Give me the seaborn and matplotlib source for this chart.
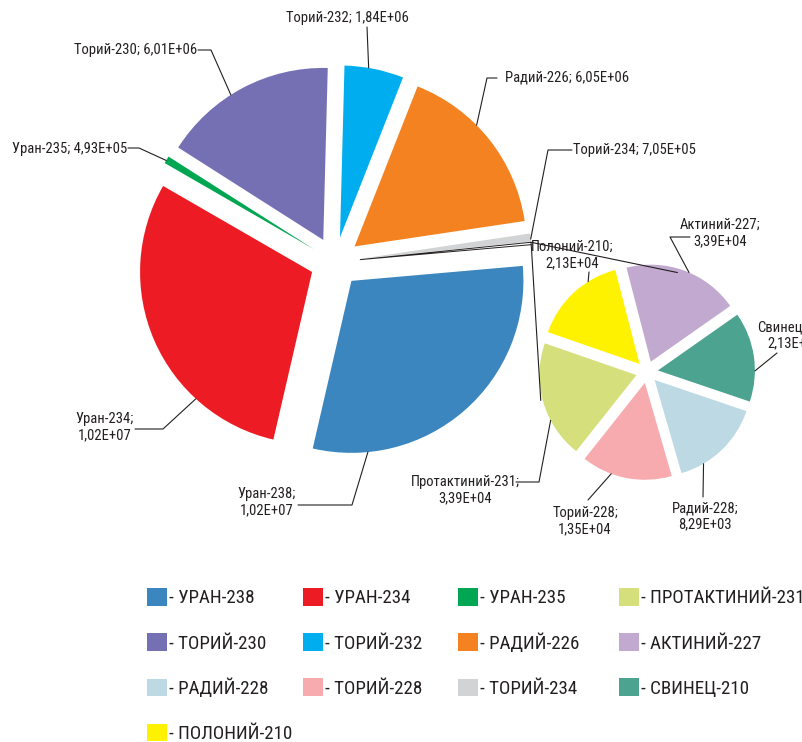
import numpy as np
import matplotlib
matplotlib.use("Agg")
import matplotlib.pyplot as plt
import matplotlib.patches as mpatches
import seaborn as sns

W, H = 802, 742

# big pie, clockwise from the right
main_names = ["Уран-238", "Уран-234", "Уран-235", "Торий-230", "Торий-232", "Радий-226", "Торий-234"]
main_values = [1.02e7, 1.02e7, 4.93e5, 6.01e6, 1.84e6, 6.05e6, 7.05e5]
main_shares = [108, 107, 2.5, 59, 20, 60, 2.7]  # slice sizes as drawn (degrees)
other_share = 0.8

# small pie, clockwise from the top
sec_names = ["Актиний-227", "Свинец-210", "Радий-228", "Торий-228", "Протактиний-231", "Полоний-210"]
sec_values = [3.39e4, 2.13e4, 8.29e3, 1.35e4, 3.39e4, 2.13e4]
sec_shares = [69.7, 54, 55.4, 54.7, 71, 56.6]

legend_order = ["Уран-238", "Уран-234", "Уран-235", "Протактиний-231",
                "Торий-230", "Торий-232", "Радий-226", "Актиний-227",
                "Радий-228", "Торий-228", "Торий-234", "Свинец-210",
                "Полоний-210"]

colors = {
    "Уран-238": "#3b86be", "Уран-234": "#ed1c24", "Уран-235": "#00a651",
    "Протактиний-231": "#d5df7b", "Торий-230": "#7570b3", "Торий-232": "#00aeef",
    "Радий-226": "#f58220", "Актиний-227": "#c2a9cf", "Радий-228": "#bddae4",
    "Торий-228": "#f7abae", "Торий-234": "#d1d3d4", "Свинец-210": "#4ba390",
    "Полоний-210": "#fff200",
}

TXT = "#231f20"


def Y(y):
    # picture rows -> axes units
    return H - y


def fmt(v):
    return f"{v:.2E}".replace(".", ",")


# label layout: text position (picture px), alignment, two lines or one,
# elbow points of the leader and the angle where it meets the slice
main_layout = {
    "Уран-238": dict(xy=(296, 502), ha="right", two=True, path=[(298, 505), (352, 505)], ang=-84.5),
    "Уран-234": dict(xy=(134, 427), ha="right", two=True, path=[(135, 429), (163, 429)], ang=-132.5),
    "Уран-235": dict(xy=(127, 149), ha="right", two=False, path=[(128, 148), (139, 148)], ang=149),
    "Торий-230": dict(xy=(197, 50), ha="right", two=False, path=[(198, 50), (211, 50)], ang=122.5),
    "Торий-232": dict(xy=(347, 18), ha="center", two=False, path=[(367, 27)], ang=80.4),
    "Радий-226": dict(xy=(505, 78), ha="left", two=False, path=[(497, 78), (487, 78)], ang=44.8),
    "Торий-234": dict(xy=(573, 150), ha="left", two=False, path=[(572, 150), (548, 150)], ang=6.6),
}
sec_layout = {
    "Актиний-227": dict(xy=(720, 233), ha="center", two=True, path=[(690, 237), (670, 237)], ang=66.8),
    "Свинец-210": dict(xy=(794, 335), ha="center", two=True, path=[(777, 353)], ang=-0.3),
    "Радий-228": dict(xy=(705, 516), ha="center", two=True, path=[(703, 497)], ang=-59.7),
    "Торий-228": dict(xy=(585, 521), ha="center", two=True, path=[(588, 500)], ang=-110.3),
    "Протактиний-231": dict(xy=(465, 490), ha="center", two=True, path=[(516, 482), (539, 482)], ang=-152.2),
    "Полоний-210": dict(xy=(572, 255), ha="center", two=True, path=[(589, 272)], ang=122),
}

sns.set_theme(style="white")
plt.rcParams["font.family"] = ["Liberation Sans Narrow", "Arial Narrow", "Roboto Condensed",
                               "Liberation Sans", "DejaVu Sans"]

fig = plt.figure(figsize=(W / 100, H / 100), dpi=100)
ax = fig.add_axes([0, 0, 1, 1])

main_c, main_r, main_ex = (335, Y(262)), 172, 25
sec_c, sec_r, sec_ex = (647, Y(372)), 97, 11

main_wedges, _ = ax.pie(
    main_shares + [other_share],
    colors=[colors[n] for n in main_names] + ["white"],
    startangle=5, counterclock=False,
    radius=main_r, center=main_c,
    explode=[main_ex] * (len(main_shares) + 1),
    wedgeprops=dict(linewidth=0),
)
other = main_wedges[-1]
other.set_edgecolor(TXT)
other.set_linewidth(0.7)

sec_wedges, _ = ax.pie(
    sec_shares,
    colors=[colors[n] for n in sec_names],
    startangle=104.5, counterclock=False,
    radius=sec_r, center=sec_c,
    explode=[sec_ex] * len(sec_shares),
    wedgeprops=dict(linewidth=0),
)


def on_wedge(w, ang, r=None):
    r = w.r if r is None else r
    a = np.deg2rad(ang)
    return w.center[0] + r * np.cos(a), w.center[1] + r * np.sin(a)


def put_labels(names, values, wedges, layout):
    for name, val, w in zip(names, values, wedges):
        lay = layout[name]
        sep = "\n" if lay["two"] else " "
        txt = f"{name};{sep}{fmt(val)}"
        x, y = lay["xy"]
        ax.text(x, Y(y), txt, ha=lay["ha"], va="center", fontsize=10.5,
                color=TXT, linespacing=1.16, multialignment="center", zorder=5)
        pts = [(px, Y(py)) for px, py in lay["path"]] + [on_wedge(w, lay["ang"])]
        xs, ys = zip(*pts)
        ax.plot(xs, ys, color=TXT, lw=0.8, zorder=4)


put_labels(main_names, main_values, main_wedges, main_layout)
put_labels(sec_names, sec_values, sec_wedges, sec_layout)

# series lines from the "other" slice to the small pie
top_end = (sec_c[0] + 104 * np.cos(np.deg2rad(73)), sec_c[1] + 104 * np.sin(np.deg2rad(73)))
bot_end = (sec_c[0] + 110 * np.cos(np.deg2rad(195)), sec_c[1] + 110 * np.sin(np.deg2rad(195)))
p_top = on_wedge(other, other.theta2)
p_bot = on_wedge(other, other.theta1)
ax.plot([p_top[0], top_end[0]], [p_top[1], top_end[1]], color=TXT, lw=0.8, zorder=4)
ax.plot([p_bot[0], bot_end[0]], [p_bot[1], bot_end[1]], color=TXT, lw=0.8, zorder=4)

# legend: four fixed columns like the original
leg_x = [147, 303, 458, 619]
for j in range(4):
    col = legend_order[j::4]
    handles = [mpatches.Patch(facecolor=colors[n], edgecolor="none") for n in col]
    labels = ["- " + n.upper() for n in col]
    leg = ax.legend(handles, labels, loc="upper left",
                    bbox_to_anchor=(leg_x[j], Y(588)), bbox_transform=ax.transData,
                    frameon=False, fontsize=13.7, handlelength=1.05, handleheight=1.05,
                    handletextpad=0.1, labelspacing=1.36, borderpad=0, borderaxespad=0)
    for t in leg.get_texts():
        t.set_color(TXT)
    ax.add_artist(leg)
ax.legend_ = None

ax.set_xlim(0, W)
ax.set_ylim(0, H)
ax.set_aspect("auto")
ax.axis("off")

fig.savefig("out.png", dpi=100)
